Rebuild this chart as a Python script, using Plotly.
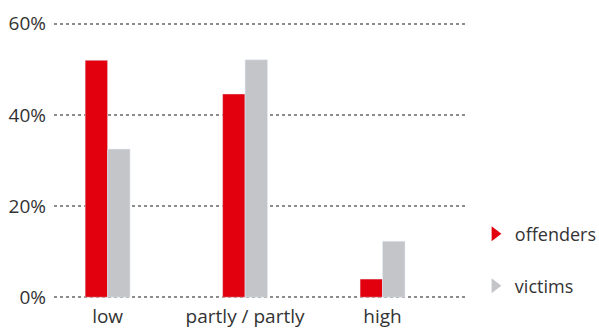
import plotly.graph_objects as go

# Share of respondents per level, in percent
categories = ["low", "partly / partly", "high"]
offenders = [52.0, 44.6, 4.0]
victims = [32.5, 52.1, 12.3]
y_ticks = [0, 20, 40, 60]
y_tick_labels = ["0%", "20%", "40%", "60%"]

RED = "#E2000F"
GREY = "#C4C5C9"
TEXT = "#333333"
FONT = "Open Sans"

fig = go.Figure()
fig.add_trace(go.Bar(x=categories, y=offenders, marker_color=RED,
                     showlegend=False, name="offenders"))
fig.add_trace(go.Bar(x=categories, y=victims, marker_color=GREY,
                     showlegend=False, name="victims"))

# Legend entries drawn as right-pointing triangles
fig.add_trace(go.Scatter(x=[None], y=[None], mode="markers", name="offenders",
                         marker=dict(symbol="triangle-right", size=13, color=RED),
                         legend="legend"))
fig.add_trace(go.Scatter(x=[None], y=[None], mode="markers", name="victims",
                         marker=dict(symbol="triangle-right", size=13, color=GREY),
                         legend="legend2"))

legend_style = dict(x=1.024, xanchor="left", yanchor="middle",
                    font=dict(family=FONT, size=18, color=TEXT),
                    bgcolor="rgba(0,0,0,0)", itemwidth=30)

fig.update_layout(
    width=599, height=328,
    margin=dict(l=54, r=134, t=21, b=28, autoexpand=False),
    paper_bgcolor="white", plot_bgcolor="white",
    barmode="group", bargap=0.673, bargroupgap=0,
    font=dict(family=FONT, size=19, color=TEXT),
    legend=dict(y=0.236, **legend_style),
    legend2=dict(y=0.050, **legend_style),
    xaxis=dict(type="category", range=[-0.39, 2.6], showgrid=False,
               zeroline=False, showline=False, ticks="",
               ticklabelstandoff=3,
               tickfont=dict(family=FONT, size=19, color=TEXT)),
    yaxis=dict(range=[-0.6, 60.6], tickvals=y_ticks, ticktext=y_tick_labels,
               showgrid=True, gridcolor="#8c8c8c", gridwidth=1.5, griddash="dot",
               zeroline=False, showline=False, ticks="",
               ticklabelstandoff=7,
               tickfont=dict(family=FONT, size=19, color=TEXT)),
)

fig.write_html("out.html")
